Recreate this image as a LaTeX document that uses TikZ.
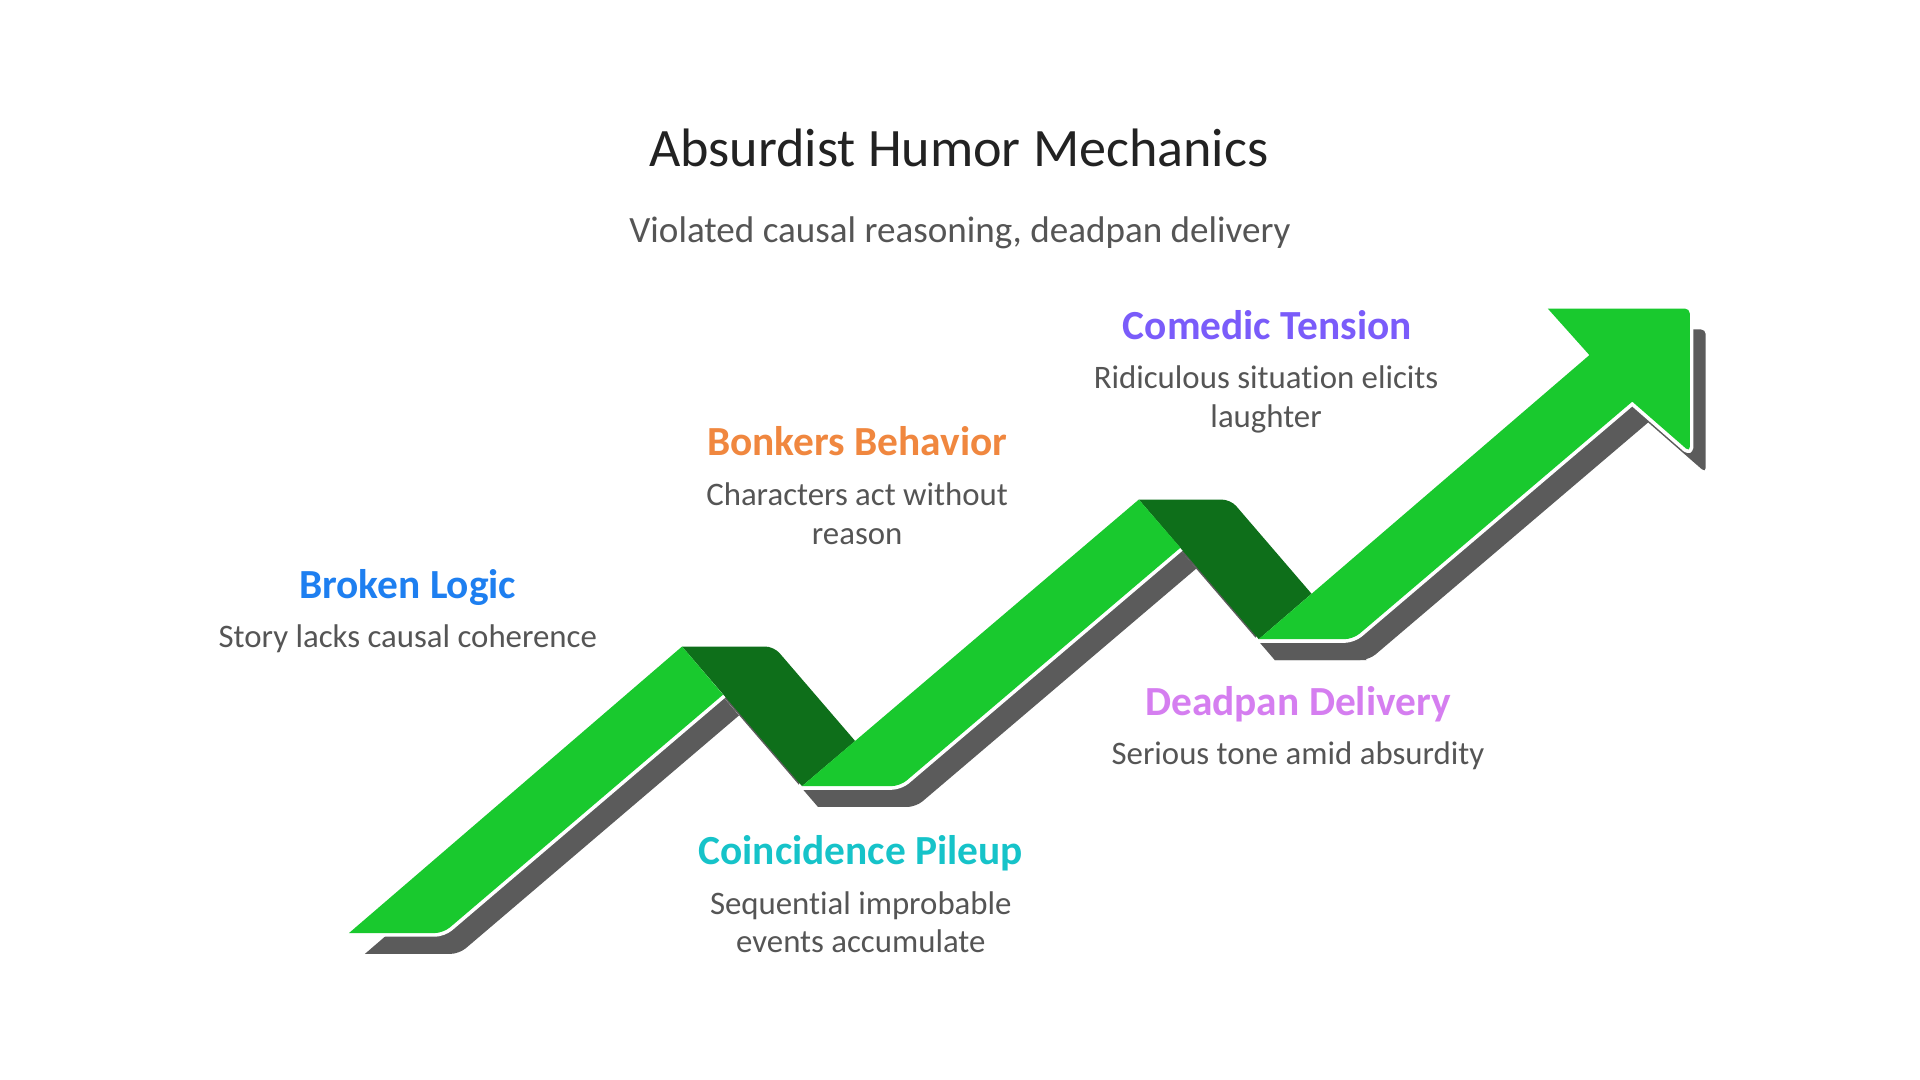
\documentclass[tikz,border=0pt]{standalone}
\usepackage{fontspec}
\setmainfont{Carlito}[Ligatures=NoCommon]
\definecolor{greenc}{HTML}{19C92E}
\definecolor{darkgreenc}{HTML}{0E6F1A}
\definecolor{shadowc}{HTML}{5B5B5B}
\definecolor{titlec}{HTML}{222222}
\definecolor{descc}{HTML}{555555}
\definecolor{bluec}{HTML}{1E7FF0}
\definecolor{orangec}{HTML}{F0873F}
\definecolor{purplec}{HTML}{7A5CFA}
\definecolor{cyanc}{HTML}{16C3C9}
\definecolor{pinkc}{HTML}{D57EF0}
\begin{document}
\begin{tikzpicture}[x=1pt,y=-1pt,
  heading/.style={font=\bfseries\fontsize{33.8}{40}\selectfont, anchor=base, inner sep=0},
  desc/.style={font=\fontsize{26.8}{32}\selectfont, text=descc, anchor=base, inner sep=0}]
\useasboundingbox (0,0) rectangle (1568,882);
\fill[white] (0,0) rectangle (1568,882);
\def\segone{(285,762) [rounded corners=7] -- (362,762) [sharp corners] -- (590.5,567.3) -- (557,528) -- cycle}
\def\segtwo{(655,642) [rounded corners=7] -- (735,642) [sharp corners] -- (964,447.3) -- (930,408) -- cycle}
\def\segthree{(1028,522) [rounded corners=7] -- (1105,522) [sharp corners] -- (1333,328) [rounded corners=4] -- (1380,369) -- (1380,252) [sharp corners] -- (1264,252) -- (1298,290) -- cycle}
\def\foldone{(557,528) [rounded corners=7] -- (632,528) [sharp corners] -- (698.4,605.2) -- (655,642) -- cycle}
\def\foldtwo{(930,408) [rounded corners=7] -- (1005,408) [sharp corners] -- (1071.1,484.9) -- (1028,522) -- cycle}
\def\foldonefull{(557,528) -- (632,528) -- (730,642) -- (655,642) -- cycle}
\def\foldtwofull{(930,408) -- (1005,408) -- (1103,522) -- (1028,522) -- cycle}
% shadow: whole ribbon shifted
\begin{scope}[shift={(13,17)}]
  \fill[shadowc] \segone;
  \fill[shadowc] \foldonefull;
  \fill[shadowc] \segtwo;
  \fill[shadowc] \foldtwofull;
  \fill[shadowc] \segthree;
\end{scope}
% green with white outline
\filldraw[fill=greenc, draw=white, line width=6, line join=round] \segone;
\filldraw[fill=greenc, draw=white, line width=6, line join=round] \segtwo;
\filldraw[fill=greenc, draw=white, line width=6, line join=round] \segthree;
% folds
\fill[darkgreenc] \foldone;
\fill[darkgreenc] \foldtwo;
% green again
\fill[greenc] \segone;
\fill[greenc] \segtwo;
\fill[greenc] \segthree;
% texts
\node[anchor=base, inner sep=0, font=\fontsize{44.2}{52}\selectfont, text=titlec] (title) at (783,136) {Absurdist Humor Mechanics};
\node[anchor=base, inner sep=0, font=\fontsize{30.3}{36}\selectfont, text=descc] (subtitle) at (784,198) {Violated causal reasoning, deadpan delivery};
\node[heading, text=purplec] (h5) at (1035,277) {Comedic Tension};
\node[desc] (d5a) at (1034,317) {Ridiculous situation elicits};
\node[desc] (d5b) at (1034,349) {laughter};
\node[heading, text=orangec] (h3) at (700,372) {Bonkers Behavior};
\node[desc] (d3a) at (700,413) {Characters act without};
\node[desc] (d3b) at (700,445) {reason};
\node[heading, text=bluec] (h1) at (333,489) {Broken Logic};
\node[desc] (d1) at (333,529) {Story lacks causal coherence};
\node[heading, text=pinkc] (h4) at (1060,584) {Deadpan Delivery};
\node[desc] (d4) at (1060,624) {Serious tone amid absurdity};
\node[heading, text=cyanc] (h2) at (703,706) {Coincidence Pileup};
\node[desc] (d2a) at (703,747) {Sequential improbable};
\node[desc] (d2b) at (703,778) {events accumulate};
\end{tikzpicture}
\end{document}
